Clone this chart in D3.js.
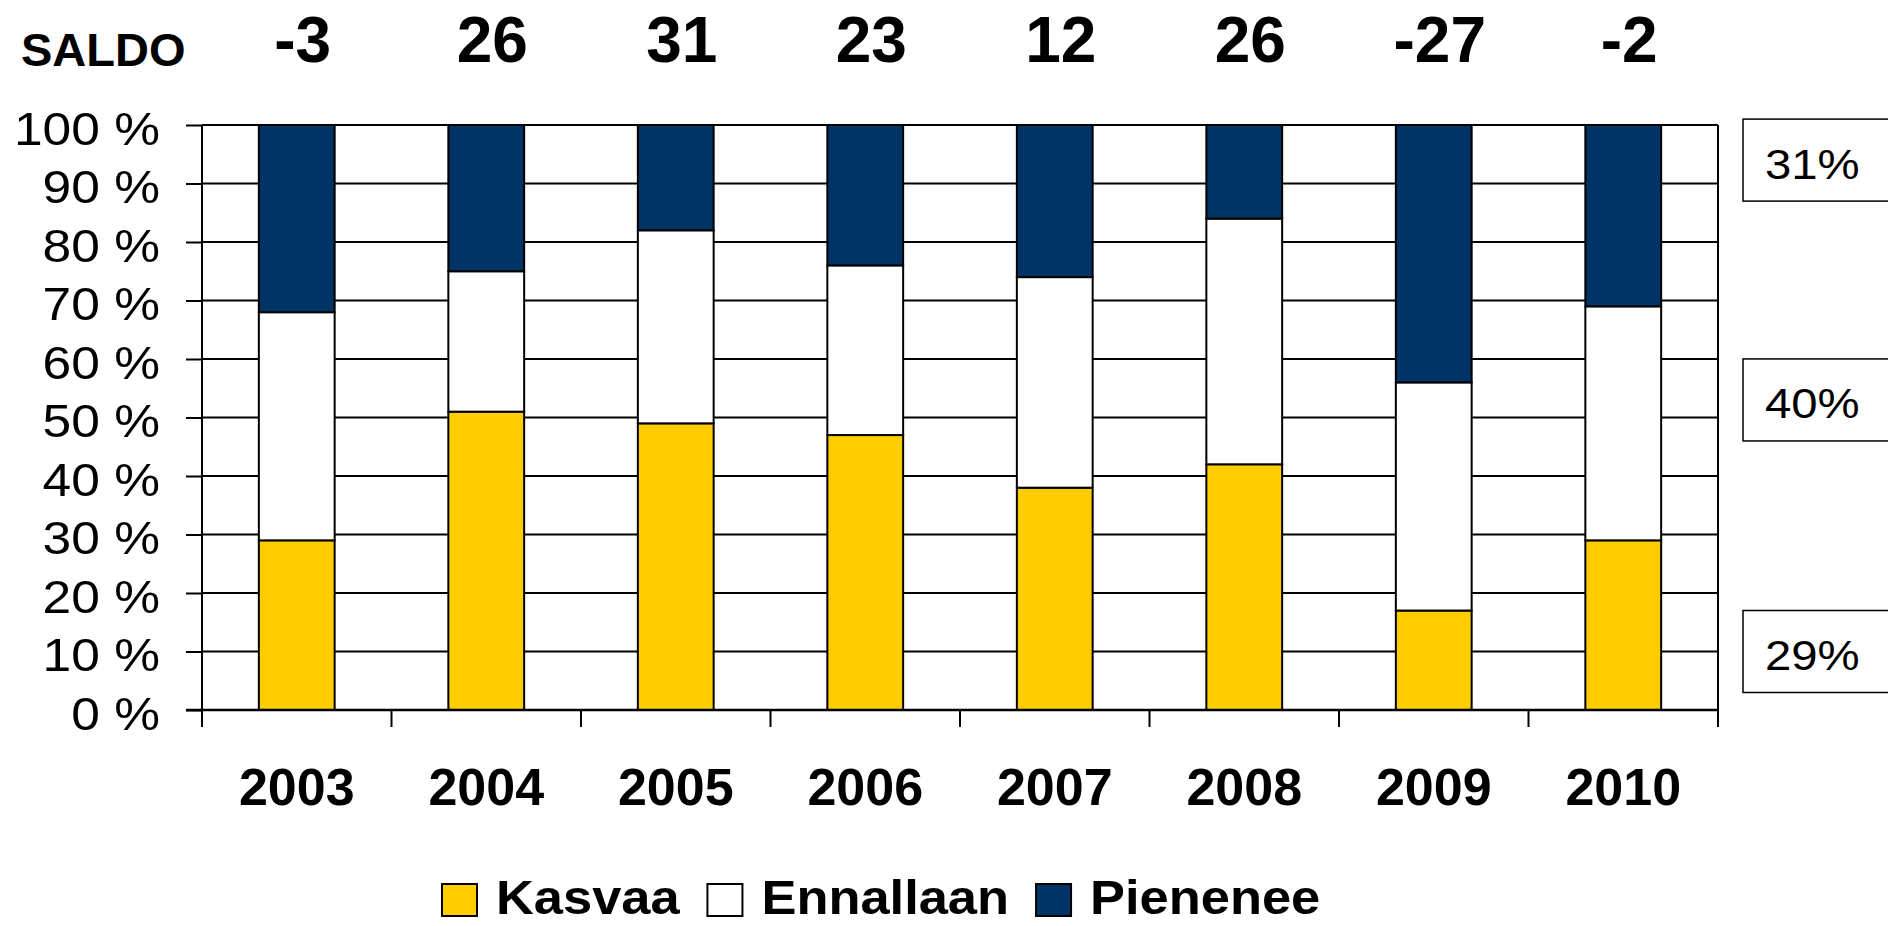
<!DOCTYPE html>
<html>
<head>
<meta charset="utf-8">
<script src="https://cdn.jsdelivr.net/npm/d3@7"></script>
<style>
  html, body { margin: 0; padding: 0; background: #fff; }
  svg { display: block; font-family: "Liberation Sans", Arial, sans-serif; }
</style>
</head>
<body>
<svg id="chart" width="1888" height="926"></svg>
<script>
// data (% of answers)
const years     = ['2003', '2004', '2005', '2006', '2007', '2008', '2009', '2010'];
const kasvaa    = [29, 51, 49, 47, 38, 42, 17, 29];
const ennallaan = [39, 24, 33, 29, 36, 42, 39, 40];
const pienenee  = [32, 25, 18, 24, 26, 16, 44, 31];
const seriesNames  = ['Kasvaa', 'Ennallaan', 'Pienenee'];
const seriesColors = ['#FFCC00', '#FFFFFF', '#003366'];
const yTicks = [0, 10, 20, 30, 40, 50, 60, 70, 80, 90, 100];

const W = 1888, H = 926;
const m = { t: 125, r: 170, b: 216, l: 202 };

const svg = d3.select('#chart');

const rows = years.map((yr, i) => ({
  year: yr, Kasvaa: kasvaa[i], Ennallaan: ennallaan[i], Pienenee: pienenee[i]
}));
const stacked = d3.stack().keys(seriesNames)(rows);

const x = d3.scaleBand().domain(years)
  .range([m.l, W - m.r]).paddingInner(0.6).paddingOuter(0.3);
const y = d3.scaleLinear().domain([0, 100]).range([H - m.b, m.t]);
const color = d3.scaleOrdinal().domain(seriesNames).range(seriesColors);

const x0 = x.range()[0], x1 = x.range()[1];
const y0 = y(0);

// text helper: Arial in the original is a bit wider than Liberation at same height
function txt(sel, tx, ty, size, sx, weight, anchor, s) {
  return sel.append('text')
    .attr('transform', `translate(${tx},${ty}) scale(${sx},1)`)
    .attr('font-size', size).attr('font-weight', weight)
    .attr('text-anchor', anchor).attr('fill', '#000')
    .text(s);
}

// gridlines
svg.append('g').selectAll('line').data(yTicks).join('line')
  .attr('x1', x0).attr('x2', x1)
  .attr('y1', d => y(d)).attr('y2', d => y(d))
  .attr('stroke', '#000').attr('stroke-width', 2);

// bars
svg.append('g').selectAll('g').data(stacked).join('g')
  .attr('fill', d => color(d.key))
  .selectAll('rect').data(d => d).join('rect')
    .attr('x', d => x(d.data.year))
    .attr('y', d => y(d[1]))
    .attr('width', x.bandwidth())
    .attr('height', d => y(d[0]) - y(d[1]))
    .attr('stroke', '#000').attr('stroke-width', 2);

// y axis
const yAxis = svg.append('g').attr('transform', `translate(${x0},0)`)
  .call(d3.axisLeft(y).tickValues(yTicks).tickSize(16).tickFormat(d => d + ' %'));
yAxis.select('.domain').attr('stroke-width', 2).attr('d', `M0,${y(100)}V${y0}`);
yAxis.selectAll('.tick line').attr('stroke-width', 2);
yAxis.selectAll('.tick text')
  .attr('x', null).attr('dy', null)
  .attr('transform', 'translate(-42,19) scale(1.12,1)')
  .attr('font-size', 46).attr('font-family', '"Liberation Sans", Arial, sans-serif')
  .attr('fill', '#000');

// right frame line + bottom axis
svg.append('line').attr('x1', x1).attr('x2', x1).attr('y1', y(100)).attr('y2', y0 + 17)
  .attr('stroke', '#000').attr('stroke-width', 2);
svg.append('line').attr('x1', x0 - 16).attr('x2', x1).attr('y1', y0).attr('y2', y0)
  .attr('stroke', '#000').attr('stroke-width', 2.5);
svg.append('g').selectAll('line').data(d3.range(years.length + 1)).join('line')
  .attr('x1', i => x0 + i * x.step()).attr('x2', i => x0 + i * x.step())
  .attr('y1', y0).attr('y2', y0 + 17)
  .attr('stroke', '#000').attr('stroke-width', 2);

// year labels
years.forEach(yr => {
  txt(svg, x(yr) + x.bandwidth() / 2, 805, 52, 1, 'bold', 'middle', yr);
});

// saldo row
txt(svg, 21, 66, 47, 1, 'bold', 'start', 'SALDO');
rows.forEach(r => {
  txt(svg, x(r.year) + x.bandwidth() / 2 + 6, 61.5, 64, 1, 'bold', 'middle', String(r.Kasvaa - r.Pienenee));
});

// side boxes with last year's shares
const last = rows[rows.length - 1];
const boxes = [
  { v: last.Pienenee, at: 94 },
  { v: last.Ennallaan, at: 53 },
  { v: last.Kasvaa, at: 10 }
];
const boxG = svg.append('g');
boxes.forEach(b => {
  const cy = y(b.at);
  boxG.append('rect').attr('x', 1743).attr('y', cy - 41).attr('width', 170).attr('height', 82)
    .attr('fill', '#fff').attr('stroke', '#000').attr('stroke-width', 1.5);
  txt(boxG, 1765, cy + 18.5, 43, 1.1, 'normal', 'start', b.v + '%');
});

// legend (kept a few px off the bottom edge)
const leg = svg.append('g');
let lx = 442;
seriesNames.forEach((s, i) => {
  leg.append('rect').attr('x', lx).attr('y', 884).attr('width', 35).attr('height', 32)
    .attr('fill', seriesColors[i]).attr('stroke', '#000').attr('stroke-width', 2);
  const t = txt(leg, lx + 54, 914, 49, 1.07, 'bold', 'start', s);
  const w = t.node().getBBox().width * 1.07;
  lx += 54 + w + 27;
});
</script>
</body>
</html>
